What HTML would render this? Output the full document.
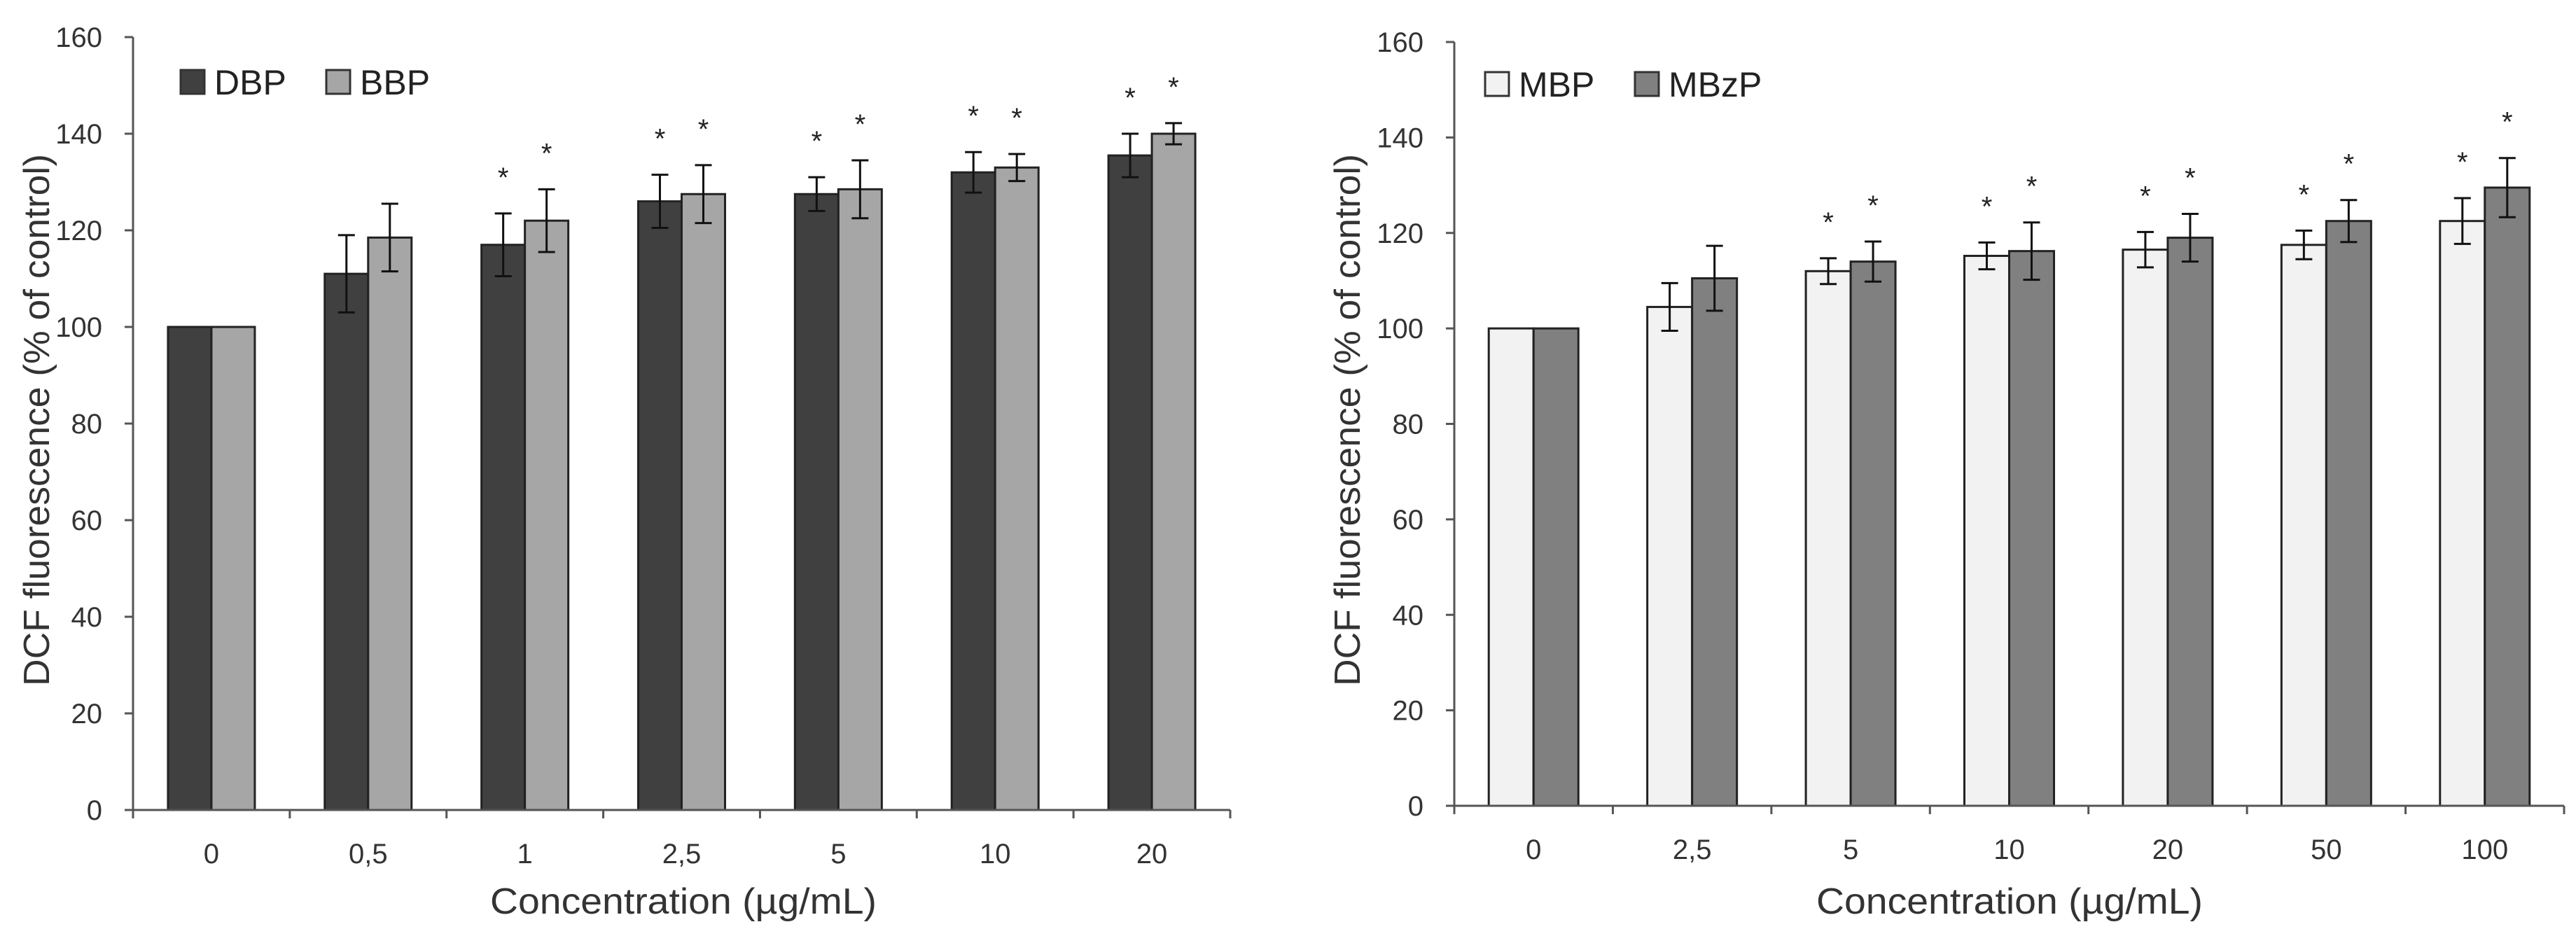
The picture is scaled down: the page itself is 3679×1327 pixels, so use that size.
<!DOCTYPE html>
<html><head><meta charset="utf-8"><style>
html,body{margin:0;padding:0;background:#fff;}
svg{display:block;font-family:"Liberation Sans",sans-serif;}
</style></head><body>
<svg id="svg" width="3679" height="1327" viewBox="0 0 3679 1327" xmlns="http://www.w3.org/2000/svg"></svg>
<script>
const leftCategories = ["0","0,5","1","2,5","5","10","20"];
const dbpValues = [100,111,117,126,127.5,132,135.5];
const dbpErrors = [0,8,6.5,5.5,3.5,4.2,4.5];
const dbpStars = [false,false,true,true,true,true,true];
const bbpValues = [100,118.5,122,127.5,128.5,133,140];
const bbpErrors = [0,7,6.5,6,6,2.8,2.2];
const bbpStars = [false,false,true,true,true,true,true];

const rightCategories = ["0","2,5","5","10","20","50","100"];
const mbpValues = [100,104.5,112,115.2,116.5,117.5,122.5];
const mbpErrors = [0,5,2.7,2.8,3.7,3,4.8];
const mbpStars = [false,false,true,true,true,true,true];
const mbzpValues = [100,110.5,114,116.2,119,122.5,129.5];
const mbzpErrors = [0,6.8,4.2,6,5,4.4,6.2];
const mbzpStars = [false,false,true,true,true,true,true];

const yTicks = [0,20,40,60,80,100,120,140,160];

const NS="http://www.w3.org/2000/svg";
const svg=document.getElementById('svg');
function mk(tag,attrs,parent,text){const e=document.createElementNS(NS,tag);for(const k in attrs)e.setAttribute(k,attrs[k]);if(text!==undefined)e.textContent=text;(parent||svg).appendChild(e);return e;}

function chart(cfg){
  const g=mk('g',{});
  
  
  const x0=cfg.x0,x1=cfg.x1,y0=cfg.y0,y160=cfg.y160;
  const y=v=>y0-(v/160)*(y0-y160);
  const n=cfg.cats.length, gw=(x1-x0)/n;
  const bw=cfg.bw;
  // bars
  cfg.series.forEach((s,si)=>{
    s.values.forEach((v,i)=>{
      const cx=x0+gw*(i+0.5);
      const bx=si===0?cx-bw:cx;
      const r=mk('rect',{x:bx,y:y(v),width:bw,height:y0-y(v),fill:s.color,stroke:'#222','stroke-width':3},g);
      
      
      const e=s.errors[i];
      const ex=bx+bw/2;
      if(e>0){
        const eg=mk('g',{stroke:'#111','stroke-width':3},g);
        
        
        mk('line',{x1:ex,x2:ex,y1:y(v+e),y2:y(v-e)},eg);
        mk('line',{x1:ex-12,x2:ex+12,y1:y(v+e),y2:y(v+e)},eg);
        mk('line',{x1:ex-12,x2:ex+12,y1:y(v-e),y2:y(v-e)},eg);
      }
      if(s.stars[i]){
        const st=mk('text',{x:ex,y:y(v+e)-38,'text-anchor':'middle','font-size':40,fill:'#222'},g,'*');
        
        
      }
    });
  });
  // axes
  const ax=mk('g',{stroke:'#555','stroke-width':3},g);
  
  
  mk('line',{x1:x0,x2:x0,y1:y160,y2:y0+12},ax);
  mk('line',{x1:x0-12,x2:x1,y1:y0,y2:y0},ax);
  yTicks.forEach(t=>{
    mk('line',{x1:x0-12,x2:x0,y1:y(t),y2:y(t)},ax);
    const tl=mk('text',{x:x0-44,y:y(t)+14,'text-anchor':'end','font-size':40,fill:'#333'},g,String(t));
    
    
  });
  for(let i=0;i<=n;i++){
    const tx=x0+gw*i;
    mk('line',{x1:tx,x2:tx,y1:y0,y2:y0+12},ax);
  }
  cfg.cats.forEach((c,i)=>{
    const tl=mk('text',{x:x0+gw*(i+0.5),y:y0+76,'text-anchor':'middle','font-size':40,fill:'#333'},g,c);
    
    
  });
  const xt=mk('text',{x:cfg.xtx,y:1305,'text-anchor':'middle','font-size':52,fill:'#333',textLength:552,lengthAdjust:'spacingAndGlyphs'},g,'Concentration (µg/mL)');
  
  
  const yt=mk('text',{x:0,y:0,'text-anchor':'middle','font-size':52,fill:'#333',textLength:760,lengthAdjust:'spacingAndGlyphs',transform:`translate(${cfg.ytx},600) rotate(-90)`},g,'DCF fluorescence (% of control)');
  
  
  // legend
  cfg.series.forEach((s,si)=>{
    const lg=mk('g',{},g);
    
    
    mk('rect',{x:cfg.legX[si],y:cfg.legY,width:34,height:34,fill:s.color,stroke:'#333','stroke-width':3},lg);
    mk('text',{x:cfg.legX[si]+48,y:cfg.legY+35,'font-size':50,fill:'#222'},lg,s.label);
  });
}

chart({name:'left-chart',x0:190,x1:1757,y0:1157,y160:53,bw:62,cats:leftCategories,xtx:976,ytx:70,
  legX:[258,466],legY:100,
  series:[{key:'dbp',label:'DBP',color:'#404040',values:dbpValues,errors:dbpErrors,stars:dbpStars},
          {key:'bbp',label:'BBP',color:'#a6a6a6',values:bbpValues,errors:bbpErrors,stars:bbpStars}]});
chart({name:'right-chart',x0:2077,x1:3662,y0:1151,y160:60,bw:64,cats:rightCategories,xtx:2870,ytx:1942,
  legX:[2121,2335],legY:103,
  series:[{key:'mbp',label:'MBP',color:'#f2f2f2',values:mbpValues,errors:mbpErrors,stars:mbpStars},
          {key:'mbzp',label:'MBzP',color:'#808080',values:mbzpValues,errors:mbzpErrors,stars:mbzpStars}]});
</script>
</body></html>
